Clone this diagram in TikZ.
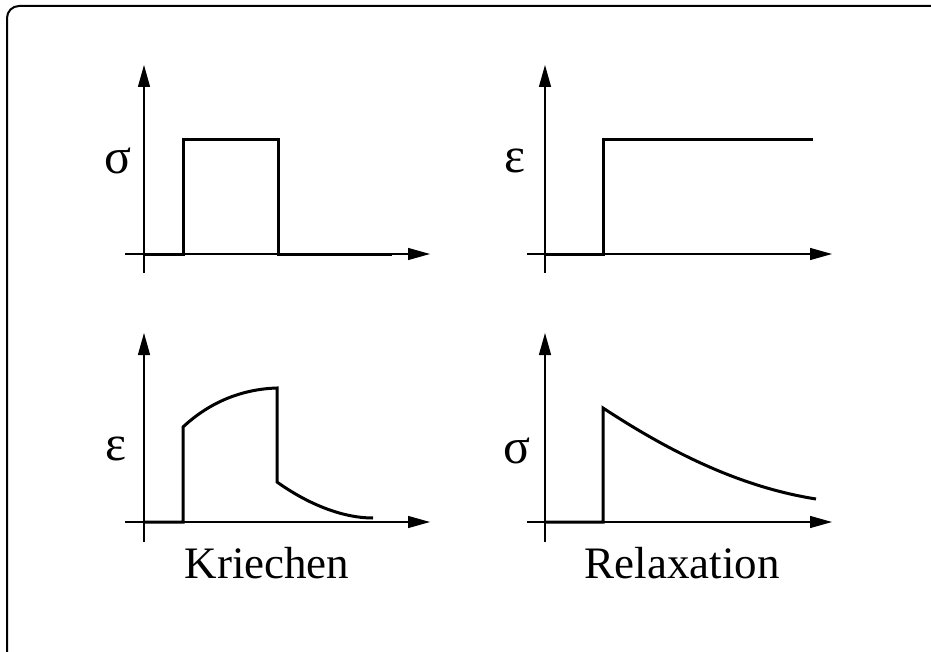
\documentclass[tikz,border=0pt]{standalone}
\usepackage{fontspec}
\setmainfont{Liberation Serif}
\usetikzlibrary{arrows.meta}
\tikzset{
  axis/.style={line width=1.3pt, -{Triangle[length=22pt,width=12pt]}},
  sig/.style={line width=3pt, line join=miter, line cap=butt},
  frame/.style={line width=2pt, rounded corners=12pt},
  greek/.style={font=\fontsize{50}{52}\selectfont, inner sep=0pt},
  caption/.style={font=\fontsize{45}{50}\selectfont, inner sep=0pt, anchor=base}
}
\begin{document}
\begin{tikzpicture}[x=1pt,y=-1pt]
\useasboundingbox (0,0) rectangle (931,652);
\draw[frame] (7,652) -- (7,6) -- (931,6);
% top-left: sigma step
\draw[axis] (144,273) -- (144,65);
\draw[axis] (125,254) -- (430,254);
\draw[sig] (144,254.5) -- (183.5,254.5) -- (183.5,139.5) -- (278.5,139.5) -- (278.5,254.5) -- (392,254.5);
\node[greek] (s1) at (118,161) {σ};
% top-right: epsilon step
\draw[axis] (545,273) -- (545,65);
\draw[axis] (527,254) -- (832,254);
\draw[sig] (545,254.5) -- (603.5,254.5) -- (603.5,139.5) -- (813,139.5);
\node[greek] (e1) at (515,161) {ε};
% bottom-left: creep
\draw[axis] (144,542) -- (144,333);
\draw[axis] (125,522) -- (430,522);
\draw[sig] (144,522) -- (183,522) -- (183,427) .. controls (212,400) and (245,389) .. (277,388) -- (277,482) .. controls (305,502) and (340,518) .. (373,518);
\node[greek] (e2) at (116,449) {ε};
% bottom-right: relaxation
\draw[axis] (545,542) -- (545,333);
\draw[axis] (527,522) -- (832,522);
\draw[sig] (545,522) -- (603,522) -- (603,408) .. controls (670,452) and (740,487) .. (816,499);
\node[greek] (s2) at (517,451) {σ};
% captions
\node[caption] (k) at (267,578) {Kriechen};
\node[caption] (r) at (682,578) {Relaxation};
\end{tikzpicture}
\end{document}
